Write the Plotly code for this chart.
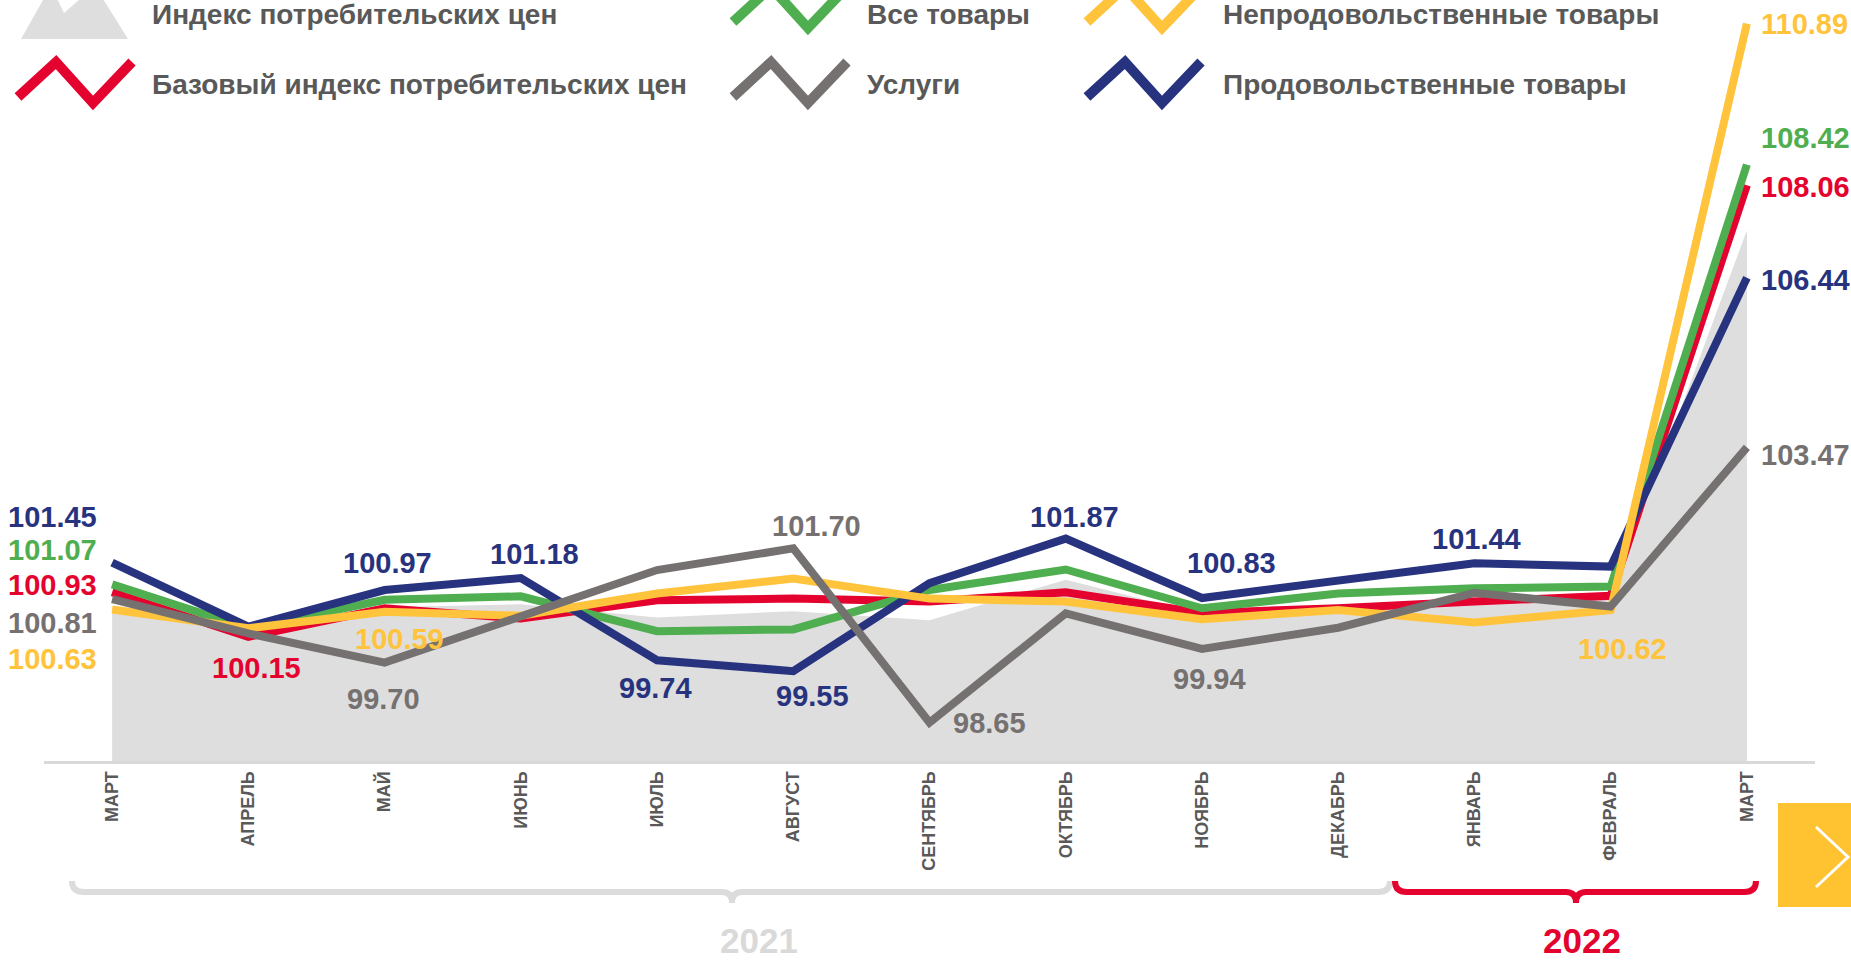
import plotly.graph_objects as go

# ---------------- data ----------------
months = ["МАРТ", "АПРЕЛЬ", "МАЙ", "ИЮНЬ", "ИЮЛЬ", "АВГУСТ", "СЕНТЯБРЬ",
          "ОКТЯБРЬ", "НОЯБРЬ", "ДЕКАБРЬ", "ЯНВАРЬ", "ФЕВРАЛЬ", "МАРТ"]
cpi      = [100.60, 100.27, 100.67, 100.72, 100.49, 100.60, 100.44, 101.15, 100.55, 100.66, 100.85, 100.83, 107.27]
core     = [100.93, 100.15, 100.65, 100.47, 100.79, 100.82, 100.77, 100.93, 100.57, 100.65, 100.77, 100.87, 108.06]
goods    = [101.07, 100.30, 100.80, 100.86, 100.25, 100.28, 100.97, 101.33, 100.65, 100.91, 101.00, 101.03, 108.42]
nonfood  = [100.63, 100.30, 100.59, 100.52, 100.91, 101.17, 100.82, 100.77, 100.46, 100.62, 100.40, 100.62, 110.89]
services = [100.81, 100.21, 99.70, 100.51, 101.32, 101.70, 98.65, 100.56, 99.94, 100.31, 100.92, 100.68, 103.47]
food     = [101.45, 100.33, 100.97, 101.18, 99.74, 99.55, 101.09, 101.87, 100.83, 101.15, 101.44, 101.38, 106.44]

legend_names = ["Индекс потребительских цен", "Базовый индекс потребительских цен",
                "Все товары", "Услуги", "Непродовольственные товары", "Продовольственные товары"]
years = ["2021", "2022"]

# ---------------- style ----------------
C_FILL = "#DEDEDE"
C_RED = "#E4032E"
C_GREEN = "#4FAE4F"
C_YELLOW = "#FFC33C"
C_BLUE = "#27337F"
C_GRAY = "#767171"
C_TEXT = "#595959"
FONT = "Liberation Sans, Arial, sans-serif"
NARROW = "Liberation Sans Narrow, Arial Narrow, Liberation Sans, sans-serif"

W, H = 1851, 963
ML, MR, MT, MB = 44, 36, 0, 202
PW, PH = W - ML - MR, H - MT - MB
Y_MIN, Y_MAX = 97.976, 111.303


def px(x):
    return (x - ML) / PW


def py(y):
    return (H - MB - y) / PH


def path(pts, close=False):
    s = "M " + " L ".join(f"{px(x):.5f},{py(y):.5f}" for x, y in pts)
    return s + (" Z" if close else "")


idx = list(range(len(months)))
fig = go.Figure()

fig.add_trace(go.Scatter(x=idx, y=cpi, mode="lines", line=dict(width=0, color=C_FILL),
                         fill="tozeroy", fillcolor=C_FILL, hoverinfo="skip"))
series = [(core, C_RED), (goods, C_GREEN), (food, C_BLUE), (nonfood, C_YELLOW), (services, C_GRAY)]
for vals, col in series:
    fig.add_trace(go.Scatter(x=idx, y=vals, mode="lines",
                             line=dict(width=8, color=col), hoverinfo="skip"))

# ---------------- data labels ----------------
# (series values, color, month index, xanchor, xshift, yshift)
labels = [
    (food, C_BLUE, 0, "right", -13, 46),
    (goods, C_GREEN, 0, "right", -13, 34),
    (core, C_RED, 0, "right", -13, 7),
    (services, C_GRAY, 0, "right", -13, -24),
    (nonfood, C_YELLOW, 0, "right", -13, -50),
    (core, C_RED, 1, "center", 8, -31),
    (food, C_BLUE, 2, "center", 3, 27),
    (nonfood, C_YELLOW, 2, "center", 15, -27),
    (services, C_GRAY, 2, "center", -1, -36),
    (food, C_BLUE, 3, "center", 14, 24),
    (food, C_BLUE, 4, "center", -2, -28),
    (food, C_BLUE, 5, "center", 19, -25),
    (services, C_GRAY, 5, "center", 23, 22),
    (services, C_GRAY, 6, "center", 60, 0),
    (food, C_BLUE, 7, "center", 9, 22),
    (food, C_BLUE, 8, "center", 30, 35),
    (services, C_GRAY, 8, "center", 8, -30),
    (food, C_BLUE, 10, "center", 2, 24),
    (nonfood, C_YELLOW, 11, "center", 12, -39),
    (nonfood, C_YELLOW, 12, "left", 12, 0),
    (goods, C_GREEN, 12, "left", 12, 27),
    (core, C_RED, 12, "left", 12, -2),
    (food, C_BLUE, 12, "left", 12, -2),
    (services, C_GRAY, 12, "left", 12, -8),
]
annotations = []
for vals, col, i, xa, xs, ys in labels:
    annotations.append(dict(x=i, y=vals[i], xref="x", yref="y", text=f"<b>{vals[i]:.2f}</b>",
                            showarrow=False, xanchor=xa, yanchor="middle", xshift=xs, yshift=ys,
                            font=dict(family=FONT, size=29, color=col)))

shapes = []

# ---------------- legend ----------------
zig = [(0, 97), (38, 62), (75, 103), (114, 62)]
leg_items = [
    (18, 0, C_RED),
    (733, -75, C_GREEN),
    (733, 0, C_GRAY),
    (1087, -75, C_YELLOW),
    (1087, 0, C_BLUE),
]
for x0, dy, col in leg_items:
    shapes.append(dict(type="path", xref="paper", yref="paper",
                       path=path([(x0 + a, b + dy) for a, b in zig]),
                       line=dict(color=col, width=10)))
# gray filled icon for CPI
shapes.append(dict(type="path", xref="paper", yref="paper",
                   path=path([(21, 39), (51, -14), (64, 13), (95, -14), (128, 39)], close=True),
                   fillcolor=C_FILL, line=dict(width=0)))

leg_text = [(150, 14, 0), (150, 85, 1), (865, 14, 2), (865, 85, 3), (1221, 14, 4), (1221, 85, 5)]
for x, y, ni in leg_text:
    annotations.append(dict(x=px(x), y=py(y), xref="paper", yref="paper", text=f"<b>{legend_names[ni]}</b>",
                            showarrow=False, xanchor="left", yanchor="middle",
                            font=dict(family=NARROW, size=28, color=C_TEXT)))

# ---------------- year brackets ----------------
def brace(x0, x1, xm, col, w):
    yt, yl, yb = 881, 892, 903
    p = (f"M {px(x0)},{py(yt)} Q {px(x0)},{py(yl)} {px(x0 + 12)},{py(yl)} "
         f"L {px(xm - 10)},{py(yl)} Q {px(xm)},{py(yl)} {px(xm)},{py(yb)} "
         f"Q {px(xm)},{py(yl)} {px(xm + 10)},{py(yl)} "
         f"L {px(x1 - 12)},{py(yl)} Q {px(x1)},{py(yl)} {px(x1)},{py(yt)}")
    return dict(type="path", xref="paper", yref="paper", path=p, line=dict(color=col, width=w))


shapes.append(brace(72, 1390, 732, "#DCDCDC", 6))
shapes.append(brace(1395, 1756, 1576, C_RED, 6))
annotations.append(dict(x=px(759), y=py(940), xref="paper", yref="paper", text=f"<b>{years[0]}</b>",
                        showarrow=False, xanchor="center", yanchor="middle",
                        font=dict(family=NARROW, size=35, color="#D9D9D9")))
annotations.append(dict(x=px(1582), y=py(940), xref="paper", yref="paper", text=f"<b>{years[1]}</b>",
                        showarrow=False, xanchor="center", yanchor="middle",
                        font=dict(family=NARROW, size=35, color=C_RED)))

# ---------------- next button ----------------
shapes.append(dict(type="rect", xref="paper", yref="paper", x0=px(1778), x1=px(1860),
                   y0=py(907), y1=py(803), fillcolor="#FFC230", line=dict(width=0)))
shapes.append(dict(type="path", xref="paper", yref="paper",
                   path=path([(1816, 827), (1848, 857), (1816, 887)]),
                   line=dict(color="white", width=3)))

fig.update_layout(
    width=W, height=H,
    margin=dict(l=ML, r=MR, t=MT, b=MB, pad=0),
    paper_bgcolor="white", plot_bgcolor="white",
    showlegend=False,
    annotations=annotations,
    shapes=shapes,
    xaxis=dict(range=[-0.5, len(months) - 0.5], tickvals=idx,
               ticktext=[f"<b>{m}</b>" for m in months], tickangle=-90,
               tickfont=dict(family=FONT, size=18, color=C_TEXT),
               showgrid=False, zeroline=False, showline=True, linecolor="#D9D9D9",
               linewidth=3, ticks="", fixedrange=True),
    yaxis=dict(range=[Y_MIN, Y_MAX], visible=False, showgrid=False, zeroline=False, fixedrange=True),
)

fig.write_html("out.html", post_script="document.body.style.margin='0';document.body.style.overflow='hidden';",
               config={"displayModeBar": False})
